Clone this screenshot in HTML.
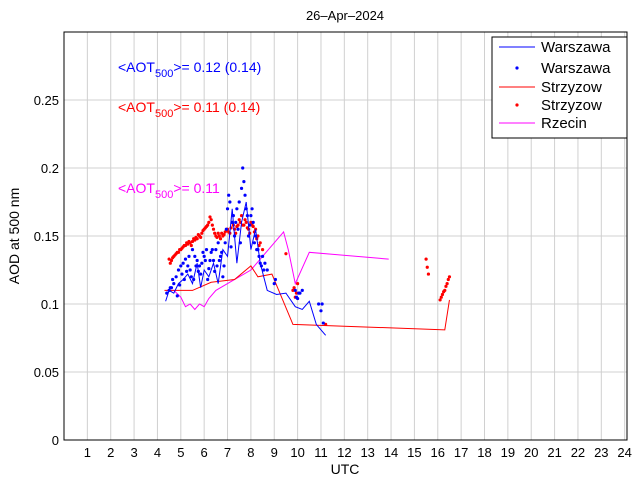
<!DOCTYPE html>
<html><head><meta charset="utf-8"><style>
body{margin:0;background:#fff;font-family:"Liberation Sans",sans-serif;}
svg text{font-family:"Liberation Sans",sans-serif;}
</style></head><body>
<svg id="chart" width="640" height="480" xmlns="http://www.w3.org/2000/svg">
<rect width="640" height="480" fill="#fff"/>
<g id="grid"></g>
<g id="series"></g>
<g id="axes"></g>
</svg>
<script>
const xTicks=[1,2,3,4,5,6,7,8,9,10,11,12,13,14,15,16,17,18,19,20,21,22,23,24];
const yTicks=[0,0.05,0.1,0.15,0.2,0.25];
const yTickLabels=["0","0.05","0.1","0.15","0.2","0.25"];
const warLineT=[4.35,4.5,4.7,4.9,5.1,5.3,5.5,5.7,5.85,6.0,6.2,6.4,6.6,6.8,7.0,7.2,7.4,7.6,7.8,8.0,8.2,8.4,8.7,9.1,9.5,9.9,10.2,10.5,10.8,11.2];
const warLineV=[0.102,0.11,0.108,0.115,0.118,0.122,0.115,0.13,0.112,0.125,0.12,0.13,0.115,0.14,0.135,0.17,0.13,0.16,0.175,0.14,0.155,0.13,0.11,0.107,0.108,0.098,0.096,0.102,0.085,0.077];
const warDotT=[4.4,4.5,4.6,4.7,4.8,4.9,5.0,5.1,5.2,5.3,5.4,5.5,5.6,5.7,5.8,5.9,6.0,6.1,6.2,6.3,6.4,6.5,6.6,6.7,6.8,6.9,7.0,7.05,7.1,7.2,7.25,7.3,7.4,7.5,7.6,7.65,7.7,7.75,7.8,7.9,8.0,8.1,8.2,8.3,8.4,8.5,8.6,8.7,9.0,9.9,10.0,10.1,10.2,10.9,11.0,11.1,
4.55,4.65,4.85,4.95,5.05,5.15,5.25,5.35,5.45,5.55,5.65,5.75,5.85,5.95,6.05,6.15,6.25,6.35,6.45,6.55,6.65,6.75,6.85,6.95,7.15,7.35,7.45,7.55,7.85,7.95,8.05,8.15,8.25,8.35,8.45,8.55,9.05,9.95,10.05,11.05];
const warDotV=[0.108,0.11,0.112,0.115,0.12,0.125,0.128,0.13,0.133,0.128,0.125,0.14,0.135,0.132,0.128,0.13,0.135,0.14,0.126,0.138,0.132,0.14,0.145,0.135,0.12,0.145,0.17,0.18,0.175,0.16,0.165,0.15,0.17,0.175,0.185,0.2,0.19,0.18,0.17,0.15,0.165,0.16,0.15,0.14,0.13,0.135,0.13,0.125,0.115,0.11,0.104,0.108,0.11,0.1,0.095,0.086,
0.112,0.118,0.106,0.114,0.122,0.118,0.124,0.135,0.12,0.118,0.128,0.124,0.122,0.138,0.132,0.118,0.132,0.14,0.124,0.128,0.132,0.138,0.128,0.155,0.142,0.16,0.155,0.145,0.165,0.158,0.17,0.145,0.14,0.135,0.128,0.125,0.118,0.105,0.108,0.1];
const strLineT=[4.3,5.5,6.3,7.3,8.0,8.3,8.9,9.8,16.3,16.5];
const strLineV=[0.11,0.11,0.116,0.118,0.128,0.12,0.122,0.085,0.081,0.103];
const strDotT=[4.5,4.6,4.7,4.8,4.9,5.0,5.1,5.2,5.3,5.4,5.5,5.6,5.7,5.8,5.9,6.0,6.1,6.2,6.3,6.4,6.5,6.6,6.7,6.8,6.9,7.0,7.1,7.2,7.3,7.4,7.5,7.6,7.7,7.8,7.9,8.0,8.1,8.2,8.3,8.4,8.5,9.5,9.8,9.9,10.0,11.2,15.5,15.55,15.6,16.1,16.2,16.3,16.4,16.5,
4.55,4.65,4.75,4.85,4.95,5.05,5.15,5.25,5.35,5.45,5.55,5.65,5.75,5.85,5.95,6.05,6.15,6.25,6.35,6.45,6.55,6.65,6.75,6.85,6.95,7.05,7.15,7.25,7.35,7.45,7.55,7.65,7.75,7.85,7.95,8.05,8.15,8.25,8.35,9.85,9.95,16.15,16.25,16.35,16.45];
const strDotV=[0.133,0.132,0.135,0.137,0.138,0.14,0.142,0.143,0.144,0.145,0.146,0.147,0.148,0.15,0.152,0.155,0.157,0.16,0.162,0.155,0.15,0.152,0.148,0.15,0.153,0.155,0.152,0.16,0.155,0.157,0.162,0.165,0.158,0.16,0.155,0.16,0.157,0.155,0.15,0.145,0.14,0.137,0.11,0.105,0.115,0.085,0.133,0.127,0.122,0.103,0.107,0.11,0.115,0.12,
0.13,0.134,0.136,0.138,0.14,0.141,0.143,0.145,0.146,0.143,0.148,0.149,0.151,0.149,0.154,0.156,0.158,0.164,0.158,0.152,0.149,0.15,0.152,0.151,0.154,0.153,0.156,0.158,0.152,0.158,0.16,0.158,0.162,0.156,0.152,0.158,0.153,0.148,0.143,0.112,0.108,0.105,0.109,0.113,0.118];
const rzeT=[4.4,4.7,5.0,5.2,5.4,5.6,5.8,6.0,6.2,6.5,7.0,7.5,8.0,8.5,9.0,9.4,9.6,9.9,10.5,13.9];
const rzeV=[0.11,0.11,0.105,0.098,0.1,0.096,0.1,0.098,0.104,0.11,0.115,0.12,0.125,0.135,0.145,0.153,0.14,0.115,0.138,0.133];

const L=64,R=627,T=32,B=440;
const X=t=>L+t*(R-L)/24.1, Y=v=>B-v*(B-T)/0.3;
const NS="http://www.w3.org/2000/svg";
function mk(tag,attrs,parent,txt){const e=document.createElementNS(NS,tag);for(const k in attrs)e.setAttribute(k,attrs[k]);if(txt!==undefined)e.textContent=txt;parent.appendChild(e);return e;}
const grid=document.getElementById('grid'),ser=document.getElementById('series'),ax=document.getElementById('axes');
xTicks.forEach(t=>{const l=mk('line',{x1:X(t),x2:X(t),y1:T,y2:B,stroke:'#d0d0d0','stroke-width':1},grid);

});
yTicks.forEach(v=>{if(v===0)return;const l=mk('line',{x1:L,x2:R,y1:Y(v),y2:Y(v),stroke:'#d0d0d0','stroke-width':1},grid);

});
function line(ts,vs,col,name){const p=mk('polyline',{points:ts.map((t,i)=>X(t)+','+Y(vs[i])).join(' '),fill:'none',stroke:col,'stroke-width':1},ser);

}
function dots(ts,vs,col,name){ts.forEach((t,i)=>{const c=mk('circle',{cx:X(t),cy:Y(vs[i]),r:1.6,fill:col},ser);

});}
line(rzeT,rzeV,'#ff00ff','rzecin-line');
line(strLineT,strLineV,'#ff0000','strzyzow-line');
dots(strDotT,strDotV,'#ff0000','strzyzow-point');
line(warLineT,warLineV,'#0000ff','warszawa-line');
dots(warDotT,warDotV,'#0000ff','warszawa-point');
const fr=mk('rect',{x:L,y:T,width:R-L,height:B-T,fill:'none',stroke:'#000','stroke-width':1},ax);


xTicks.forEach(t=>{const s=mk('text',{x:X(t),y:457,'font-size':13,'text-anchor':'middle'},ax,String(t));

});
yTicks.forEach((v,i)=>{const s=mk('text',{x:59,y:Y(v)+5,'font-size':13,'text-anchor':'end'},ax,yTickLabels[i]);

});
</script>
<svg style="position:absolute;left:0;top:0" width="640" height="480" xmlns="http://www.w3.org/2000/svg">
<text x="345" y="20" font-size="13" text-anchor="middle">26–Apr–2024</text>
<text x="345" y="474" font-size="14" text-anchor="middle">UTC</text>
<text x="19" y="236" font-size="14" text-anchor="middle" transform="rotate(-90 19 236)">AOD at 500 nm</text>
<text x="118" y="72" font-size="14" fill="#0000ff">&lt;AOT<tspan font-size="11" dy="5">500</tspan><tspan dy="-5">&gt;= 0.12 (0.14)</tspan></text>
<text x="118" y="112" font-size="14" fill="#ff0000">&lt;AOT<tspan font-size="11" dy="5">500</tspan><tspan dy="-5">&gt;= 0.11 (0.14)</tspan></text>
<text x="118" y="193" font-size="14" fill="#ff00ff">&lt;AOT<tspan font-size="11" dy="5">500</tspan><tspan dy="-5">&gt;= 0.11</tspan></text>
<g>
<rect x="492" y="37" width="135" height="101" fill="#fff" stroke="#000" stroke-width="1"/>
<line x1="499" x2="535" y1="47" y2="47" stroke="#0000ff"/>
<text x="541" y="52" font-size="15">Warszawa</text>
<circle cx="517" cy="68" r="1.6" fill="#0000ff"/>
<text x="541" y="73" font-size="15">Warszawa</text>
<line x1="499" x2="535" y1="87" y2="87" stroke="#ff0000"/>
<text x="541" y="92" font-size="15">Strzyzow</text>
<circle cx="517" cy="105" r="1.6" fill="#ff0000"/>
<text x="541" y="110" font-size="15">Strzyzow</text>
<line x1="499" x2="535" y1="123" y2="123" stroke="#ff00ff"/>
<text x="541" y="128" font-size="15">Rzecin</text>
</g>
</svg>
</body></html>
